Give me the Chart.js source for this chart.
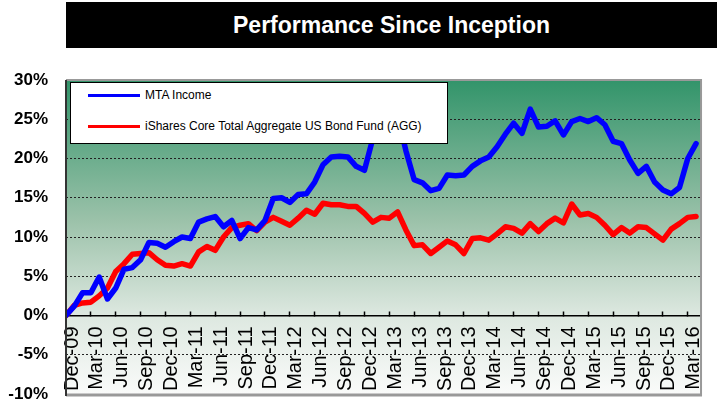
<!DOCTYPE html>
<html>
<head>
<meta charset="utf-8">
<script src="https://cdn.jsdelivr.net/npm/chart.js@4/dist/chart.umd.min.js"></script>
<style>
  html, body { margin: 0; padding: 0; background: #fff; }
  #wrap { position: relative; width: 728px; height: 402px; font-family: Arial, "Liberation Sans", sans-serif; }
  #title {
    position: absolute; left: 66px; top: 2px; width: 651px; height: 46px;
    background: #000; color: #fff; font-weight: bold; font-size: 23px;
    line-height: 46px; text-align: center;
  }
  #chart { position: absolute; left: 0; top: 0; }
  #legend {
    position: absolute; left: 70px; top: 82px; width: 376px; height: 60px;
    background: #fff; border: 1px solid #000; font-size: 12px; color: #000;
  }
  .item { position: absolute; left: 17px; height: 14px; line-height: 14px; white-space: nowrap; }
  .swatch { display: inline-block; width: 52px; height: 3px; vertical-align: middle; margin-right: 5px; }
</style>
</head>
<body>
<div id="wrap">
  <div id="title">Performance Since Inception</div>
  <canvas id="chart" width="728" height="402"></canvas>
  <div id="legend"></div>
</div>

<script>
/* =========================
   DADOS
========================= */

// quarterly tick labels, one every 3 months starting Dec-09
const tickLabels = [
  "Dec-09", "Mar-10", "Jun-10", "Sep-10", "Dec-10", "Mar-11", "Jun-11", "Sep-11",
  "Dec-11", "Mar-12", "Jun-12", "Sep-12", "Dec-12", "Mar-13", "Jun-13", "Sep-13",
  "Dec-13", "Mar-14", "Jun-14", "Sep-14", "Dec-14", "Mar-15", "Jun-15", "Sep-15",
  "Dec-15", "Mar-16"
];

const seriesNames = ["MTA Income", "iShares Core Total Aggregate US Bond Fund (AGG)"];
const seriesColors = ["#0000ff", "#ff0000"];

// monthly cumulative return (%), Dec-09 .. Apr-16
const mtaIncome = [
  0, 1.2, 2.9, 2.9, 4.9, 2.1, 3.5, 5.9, 6.1, 7.1, 9.3, 9.2, 8.7,
  9.4, 10.0, 9.8, 11.9, 12.3, 12.6, 11.3, 12.1, 9.8, 11.2, 10.9, 12.1,
  14.9, 15.0, 14.4, 15.4, 15.5, 17.0, 19.2, 20.2, 20.3, 20.2, 19.0, 18.5,
  22.5, 25.5, 26.8, 25.5, 21.0, 17.3, 16.9, 15.9, 16.2, 17.9, 17.8, 17.9,
  19.0, 19.7, 20.2, 21.5, 23.1, 24.5, 23.2, 26.3, 24.0, 24.1, 24.8, 23.0,
  24.7, 25.1, 24.7, 25.2, 24.3, 22.2, 21.9, 19.8, 18.1, 19.0, 17.0, 16.0,
  15.5, 16.3, 20.0, 21.9
];

const aggBond = [
  0, 1.3, 1.6, 1.7, 2.5, 3.5, 5.6, 6.6, 7.8, 7.9, 8.0, 7.1, 6.4,
  6.3, 6.6, 6.3, 8.1, 8.8, 8.3, 10.0, 11.2, 11.5, 11.7, 10.8, 11.9,
  12.5, 12.0, 11.5, 12.4, 13.4, 12.9, 14.3, 14.1, 14.1, 13.9, 13.9, 13.0,
  11.9, 12.5, 12.4, 13.2, 10.9, 8.9, 9.0, 7.9, 8.7, 9.5, 9.0, 7.9,
  9.8, 9.9, 9.6, 10.4, 11.3, 11.1, 10.5, 11.7, 10.7, 11.7, 12.4, 11.8,
  14.2, 12.8, 13.0, 12.5, 11.5, 10.3, 11.2, 10.5, 11.3, 11.2, 10.4, 9.6,
  11.0, 11.7, 12.5, 12.6
];

const yMin = -10;
const yMax = 30;
const yStep = 5;

/* =========================
   LEGENDA
========================= */

const legend = document.getElementById("legend");
seriesNames.forEach((name, i) => {
  const item = document.createElement("div");
  item.className = "item";
  item.style.top = (i === 0 ? 5 : 36) + "px";
  item.innerHTML = '<span class="swatch" style="background:' + seriesColors[i] + '"></span>' + name;
  legend.appendChild(item);
});

/* =========================
   PLUGINS
========================= */

const plotBackground = {
  id: "plotBackground",
  beforeDraw(chart) {
    const { ctx, chartArea: a } = chart;
    const g = ctx.createLinearGradient(0, a.top, 0, a.bottom);
    g.addColorStop(0, "#32946a");
    g.addColorStop(0.45, "#9cc2aa");
    g.addColorStop(0.75, "#dde8e0");
    g.addColorStop(1, "#fafbfa");
    ctx.save();
    ctx.fillStyle = g;
    ctx.fillRect(a.left, a.top, a.right - a.left, a.bottom - a.top);
    ctx.restore();
  }
};

const plotBorder = {
  id: "plotBorder",
  afterDraw(chart) {
    const { ctx, chartArea: a } = chart;
    ctx.save();
    ctx.strokeStyle = "#999";
    ctx.lineWidth = 2;
    ctx.beginPath();
    ctx.moveTo(a.left, a.top);
    ctx.lineTo(a.right, a.top);
    ctx.lineTo(a.right, a.bottom);
    ctx.stroke();
    ctx.lineWidth = 3;
    ctx.beginPath();
    ctx.moveTo(a.left, a.bottom + 1);
    ctx.lineTo(a.right + 1, a.bottom + 1);
    ctx.stroke();
    ctx.strokeStyle = "#333";
    ctx.lineWidth = 2;
    ctx.beginPath();
    ctx.moveTo(a.left, a.top);
    ctx.lineTo(a.left, a.bottom + 2);
    ctx.stroke();
    ctx.restore();
  }
};

/* =========================
   CHART
========================= */

const toPoints = arr => arr.map((v, i) => ({ x: i, y: v }));

new Chart(document.getElementById("chart"), {
  type: "line",
  data: {
    datasets: [
      {
        label: seriesNames[0],
        data: toPoints(mtaIncome),
        borderColor: seriesColors[0],
        borderWidth: 5.5,
        pointRadius: 0,
        borderJoinStyle: "round",
        borderCapStyle: "round"
      },
      {
        label: seriesNames[1],
        data: toPoints(aggBond),
        borderColor: seriesColors[1],
        borderWidth: 5.5,
        pointRadius: 0,
        borderJoinStyle: "round",
        borderCapStyle: "round"
      }
    ]
  },
  options: {
    responsive: false,
    animation: false,
    layout: { padding: { top: 80, right: 11, bottom: 8, left: 0 } },
    plugins: {
      legend: { display: false },
      tooltip: { enabled: false }
    },
    scales: {
      x: {
        type: "linear",
        position: { y: 0 },
        min: 0,
        max: 76.6,
        afterFit(scale) { scale.height = 0; },
        grid: {
          drawOnChartArea: false,
          drawTicks: true,
          tickLength: -5,
          tickColor: "#000",
          tickWidth: 1.5
        },
        border: { display: true, color: "#000", width: 1.5 },
        ticks: {
          stepSize: 3,
          autoSkip: false,
          includeBounds: false,
          maxRotation: 90,
          minRotation: 90,
          padding: 16,
          labelOffset: 6,
          color: "#000",
          font: { family: "Arial, 'Liberation Sans', sans-serif", size: 20 },
          callback: v => (v % 3 === 0 ? tickLabels[v / 3] : "")
        }
      },
      y: {
        min: yMin,
        max: yMax,
        afterFit(scale) {
          scale.width = 66;
          // label padding must not shrink the plot area vertically
          scale.paddingTop = 0;
          scale.paddingBottom = 0;
        },
        grid: {
          drawTicks: false,
          lineWidth: 1,
          color: ctx => {
            const v = ctx.tick ? ctx.tick.value : null;
            return (v === yMin || v === yMax || v === 0) ? "rgba(0,0,0,0)" : "#222";
          }
        },
        border: { display: false, dash: [2, 2] },
        ticks: {
          stepSize: yStep,
          padding: 18,
          color: "#000",
          font: { family: "Arial, 'Liberation Sans', sans-serif", size: 17, weight: "bold" },
          callback: v => v + "%"
        }
      }
    }
  },
  plugins: [plotBackground, plotBorder]
});
</script>
</body>
</html>
